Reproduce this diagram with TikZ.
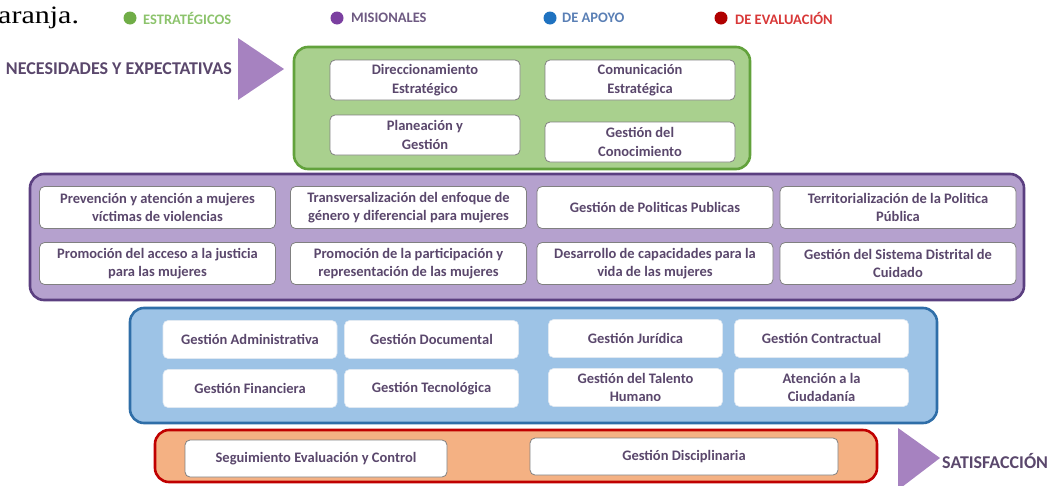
\documentclass[tikz,border=0pt]{standalone}
\usepackage{fontspec}
\setmainfont{Carlito}
\newfontfamily\seriffont{Liberation Serif}
\definecolor{txt}{HTML}{5A476C}
\definecolor{boxgray}{HTML}{808080}
\definecolor{gfill}{HTML}{A9D08E}
\definecolor{gline}{HTML}{62A23C}
\definecolor{pfill}{HTML}{B5A1CE}
\definecolor{pline}{HTML}{5B3F80}
\definecolor{bfill}{HTML}{9DC3E6}
\definecolor{bline}{HTML}{2F6EA8}
\definecolor{ofill}{HTML}{F4B183}
\definecolor{oline}{HTML}{C00000}
\definecolor{tri}{HTML}{A682C0}
\definecolor{lgdot}{HTML}{70AD47}
\definecolor{lgtxt}{HTML}{8CC36C}
\definecolor{lpdot}{HTML}{7B3FA0}
\definecolor{lptxt}{HTML}{6E5A82}
\definecolor{lbdot}{HTML}{1F72C0}
\definecolor{lbtxt}{HTML}{5A7FB5}
\definecolor{lrdot}{HTML}{B00000}
\definecolor{lrtxt}{HTML}{D83838}
\tikzset{
  outer/.style={line width=2.6pt, rounded corners=14pt, inner sep=0pt, minimum width=#1},
  inbox/.style={draw=boxgray, fill=white, line width=0.8pt, rounded corners=5pt,
     align=center, inner sep=0pt, text=txt,
     font=\fontsize{14.5}{18.5}\selectfont\bfseries},
  legtxt/.style={anchor=west, inner sep=0pt, font=\fontsize{14.5}{16}\selectfont\bfseries},
  sidetxt/.style={inner sep=0pt, text=txt, font=\fontsize{18}{20}\selectfont\bfseries},
}
\begin{document}
\begin{tikzpicture}[x=1pt,y=-1pt]
\useasboundingbox (0,0) rectangle (1052,485);
% cut-off text at top left
\node[anchor=base west, inner sep=0pt, xscale=1.2, font=\seriffont\fontsize{25}{28}\selectfont] (cut) at (-2,23) {aranja.};
% legend
\fill[lgdot] (130,18) circle (6.5);
\node[legtxt, text=lgtxt] (l1) at (143,18) {ESTRATÉGICOS};
\fill[lpdot] (337,18) circle (6.5);
\node[legtxt, text=lptxt] (l2) at (351,18) {MISIONALES};
\fill[lbdot] (550,18) circle (6.5);
\node[legtxt, text=lbtxt] (l3) at (562,18) {DE APOYO};
\fill[lrdot] (721,18) circle (6.5);
\node[legtxt, text=lrtxt] (l4) at (735,18) {DE EVALUACIÓN};
% side arrows
\fill[tri] (238,38) -- (284,69) -- (238,100) -- cycle;
\node[sidetxt, anchor=east] (nec) at (232,69) {NECESIDADES Y EXPECTATIVAS};
\fill[tri] (898,428) -- (940,458) -- (898,490) -- cycle;
\node[sidetxt, anchor=west] (sat) at (942,461) {SATISFACCIÓN};
% containers
\node[outer=456pt, minimum height=122pt, draw=gline, fill=gfill] (green) at (522,108) {};
\node[outer=994pt, minimum height=126pt, draw=pline, fill=pfill] (purple) at (527,237) {};
\node[outer=807pt, minimum height=115pt, draw=bline, fill=bfill] (blue) at (533.5,365.5) {};
\node[outer=722pt, minimum height=52pt, draw=oline, fill=ofill] (orange) at (516,456) {};
% strategic
\begin{scope}[every node/.style={inbox, minimum width=190pt, minimum height=40pt}]
\node (g1) at (425,80) {Direccionamiento\\Estratégico};
\node (g2) at (640,80) {Comunicación\\Estratégica};
\node (g3) at (425,135) {Planeación y\\Gestión};
\node (g4) at (640,142) {Gestión del\\Conocimiento};
\end{scope}
% misionales
\begin{scope}[every node/.style={inbox, minimum width=236pt, minimum height=42pt}]
\node (p1) at (157.5,207.5) {Prevención y atención a mujeres\\víctimas de violencias};
\node (p2) at (408.5,207.5) {Transversalización del enfoque de\\género y diferencial para mujeres};
\node (p3) at (655,207.5) {Gestión de Politicas Publicas};
\node (p4) at (898,207.5) {Territorialización de la Politica\\Pública};
\node (p5) at (157.5,263.5) {Promoción del acceso a la justicia\\para las mujeres};
\node (p6) at (408.5,263.5) {Promoción de la participación y\\representación de las mujeres};
\node (p7) at (655,263.5) {Desarrollo de capacidades para la\\vida de las mujeres};
\node (p8) at (898,263.5) {Gestión del Sistema Distrital de\\Cuidado};
\end{scope}
% apoyo
\begin{scope}[every node/.style={inbox, draw=white!85!bline, line width=0.6pt, minimum width=174pt, minimum height=38pt}]
\node (b1) at (250,339.5) {Gestión Administrativa};
\node (b2) at (431.5,339.5) {Gestión Documental};
\node (b3) at (635.5,338.5) {Gestión Jurídica};
\node (b4) at (821.5,338.5) {Gestión Contractual};
\node (b5) at (250,388.5) {Gestión Financiera};
\node (b6) at (431.5,388.5) {Gestión Tecnológica};
\node (b7) at (635.5,387.5) {Gestión del Talento\\Humano};
\node (b8) at (821.5,387.5) {Atención a la\\Ciudadanía};
\end{scope}
% evaluacion
\begin{scope}[every node/.style={inbox, minimum height=37pt}]
\node[minimum width=262pt] (o1) at (316,458.5) {Seguimiento Evaluación y Control};
\node[minimum width=308pt] (o2) at (684,456.5) {Gestión Disciplinaria};
\end{scope}
\end{tikzpicture}
\end{document}
